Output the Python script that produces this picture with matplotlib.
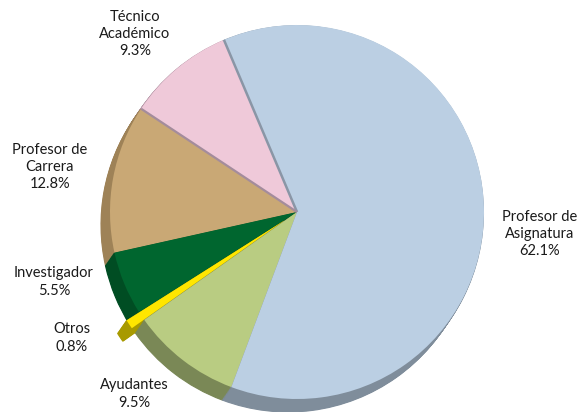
import matplotlib
matplotlib.use("Agg")
import matplotlib.pyplot as plt
import numpy as np

categories = ["Técnico\nAcadémico", "Profesor de\nCarrera", "Investigador", "Otros", "Ayudantes", "Profesor de\nAsignatura"]
values = [9.3, 12.8, 5.5, 0.8, 9.5, 62.1]
top_colors = ["#EFC9D9", "#C9A875", "#00662F", "#FFE600", "#B9CC82", "#BBCFE3"]
side_colors = ["#B596A6", "#9E8257", "#004D23", "#A89A00", "#7A8856", "#7F8D9B"]
explode = [0, 0, 0, 0.08, 0, 0]

R_PX = 187.0
cx, cy = 297.0, 212.0

# label positions in pixels (centre of each text block)
label_px = [(135, 34), (50, 167), (54, 282), (72, 338), (134, 394), (540, 234)]

plt.rcParams['font.family'] = ['Lato', 'DejaVu Sans']

fig = plt.figure(figsize=(5.81, 4.12), dpi=100)
ax = fig.add_axes([0, 0, 1, 1])

start = 113
dx, dy = -9 / R_PX, -13 / R_PX
steps = 16
for k in range(steps, 0, -1):
    t = k / steps
    ax.pie(values, colors=side_colors, startangle=start, counterclock=True,
           explode=explode, center=(dx * t, dy * t), radius=1.0, frame=True,
           wedgeprops=dict(linewidth=0.8))
for w in ax.patches:
    w.set_edgecolor(w.get_facecolor())

wedges, _ = ax.pie(values, colors=top_colors, startangle=start, counterclock=True,
                   explode=explode, center=(0, 0), radius=1.0, frame=True,
                   wedgeprops=dict(linewidth=0))

# boundary lines on top face
line_cols = [("#8A96A6", 1.8), ("#A48C9C", 1.6)]
for i, (col, lw) in enumerate(line_cols):
    th = np.deg2rad(wedges[i].theta1 if i == 0 else wedges[i].theta1)
    ax.plot([0, np.cos(th)], [0, np.sin(th)], color=col, lw=lw, solid_capstyle='butt', zorder=3)

ax.set_xlim(-cx / R_PX, (581 - cx) / R_PX)
ax.set_ylim(-(412 - cy) / R_PX, cy / R_PX)
ax.set_aspect('equal')
ax.axis('off')

for i, cat in enumerate(categories):
    px, py = label_px[i]
    ax.text((px - cx) / R_PX, (cy - py) / R_PX, f"{cat}\n{values[i]:.1f}%", ha='center', va='center',
            fontsize=10.5, color='#1a1a1a', linespacing=1.3)

fig.savefig("out.png", dpi=100)
